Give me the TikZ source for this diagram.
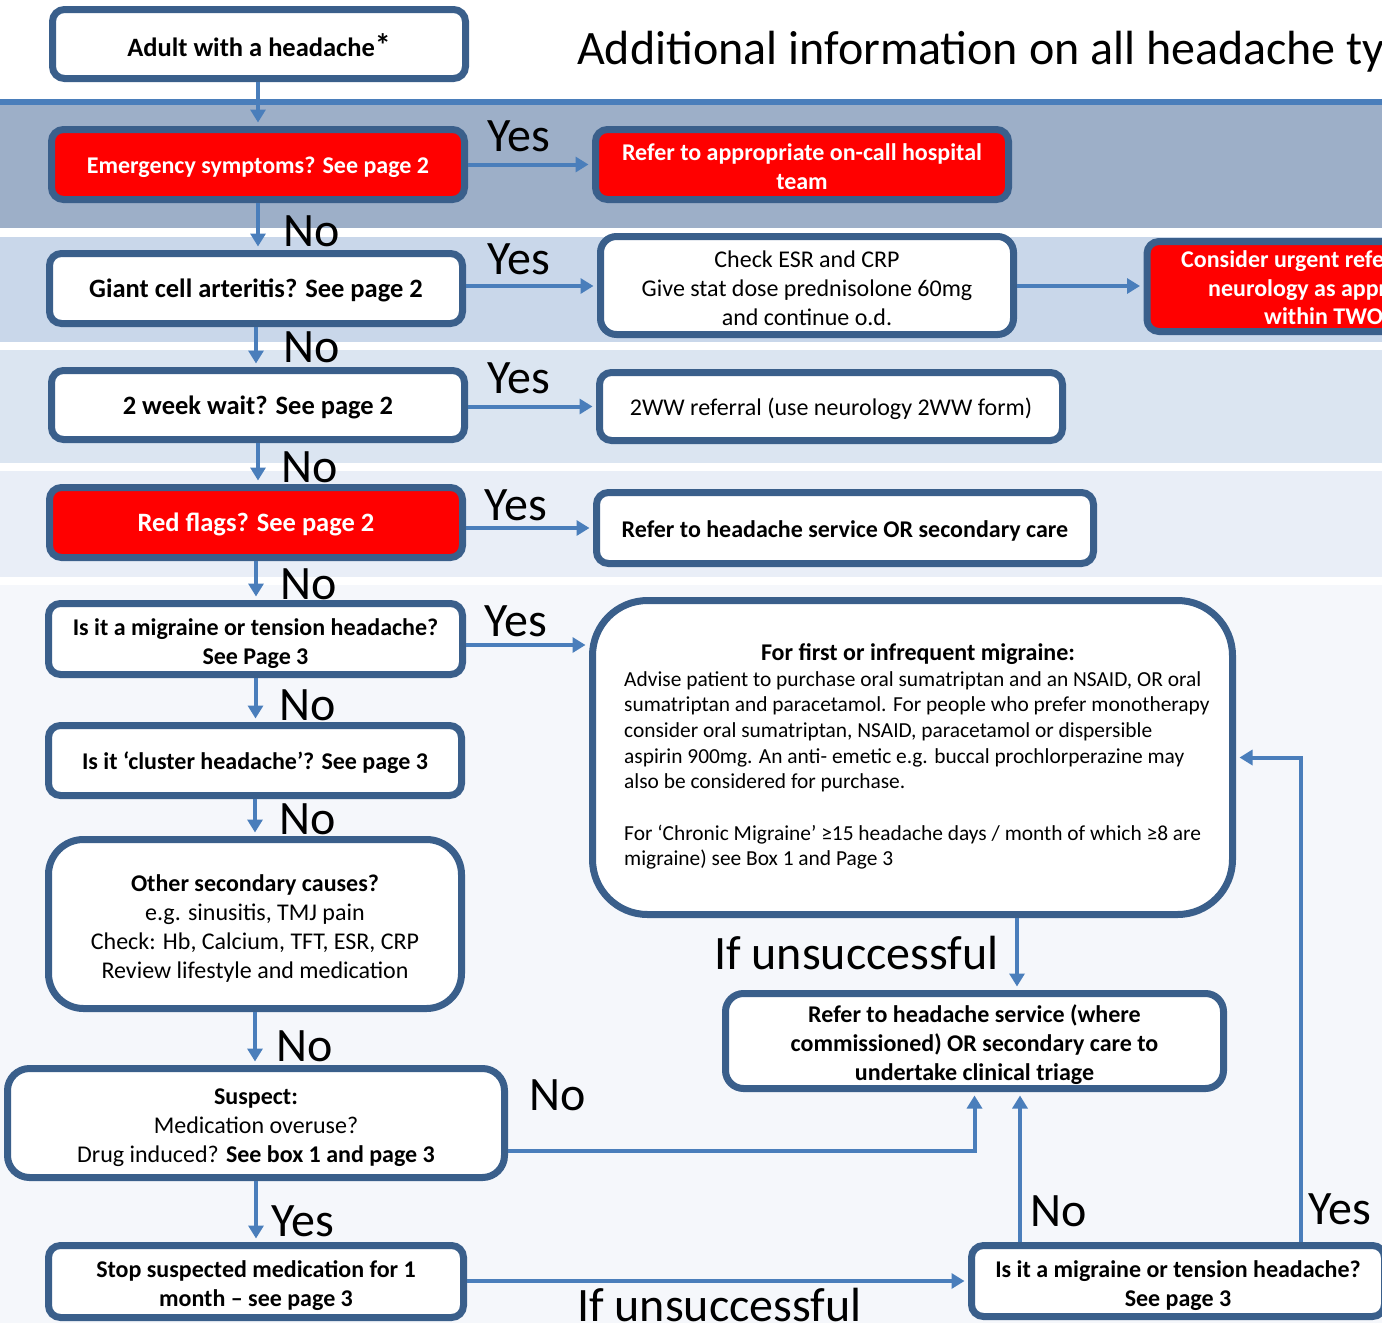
\documentclass[tikz,border=0pt]{standalone}
\usepackage{fontspec}
\setmainfont{Carlito}
\usetikzlibrary{arrows.meta}
\definecolor{bcol}{HTML}{3A5F8B}
\definecolor{acol}{HTML}{4A7EBB}
\definecolor{boxred}{HTML}{FF0000}
\definecolor{bandA}{HTML}{9DAFC8}
\definecolor{bandB}{HTML}{C9D7EA}
\definecolor{bandC}{HTML}{DBE5F1}
\definecolor{bandD}{HTML}{E9EEF7}
\definecolor{bandE}{HTML}{F5F7FB}
\newcommand\bxfont{\fontsize{24}{29}\selectfont}
\newcommand\bgfont{\fontsize{26.5}{31}\selectfont}
\newcommand\lblfont{\fontsize{48}{58}\selectfont}
\newcommand\smfont{\fontsize{21.4}{25.7}\selectfont}
\newcommand\tp{\rule{0pt}{27pt}}
\begin{document}
\begin{tikzpicture}[x=1pt,y=-1pt,
  box/.style={draw=bcol, line width=7pt, rounded corners=12pt, fill=white, align=center, inner sep=0pt, font=\bxfont\bfseries,
    execute at begin node={\rule{0pt}{24pt}}, execute at end node={\rule[-5.6pt]{0pt}{5.6pt}}},
  plainbox/.style={box, font=\bxfont},
  bigbox/.style={box, font=\bgfont\bfseries},
  redbox/.style={box, fill=boxred, text=white},
  arr/.style={draw=acol, line width=4pt, -{Triangle[length=13pt,width=15pt]}, shorten >=3.5pt},
  lbl/.style={anchor=base west, inner sep=0pt, font=\lblfont},
  urgtxt/.style={anchor=base west, inner sep=0pt, text=white, font=\bxfont\bfseries}]
\useasboundingbox (0,0) rectangle (1382,1323);
\clip (0,0) rectangle (1382,1323);
\fill[white] (0,0) rectangle (1382,1323);
% bands
\fill[bandA] (0,105) rectangle (1382,228);
\fill[acol] (0,99) rectangle (1382,105);
\fill[bandB] (0,237) rectangle (1382,342);
\fill[bandC] (0,350) rectangle (1382,463);
\fill[bandD] (0,471) rectangle (1382,577);
\fill[bandE] (0,585) rectangle (1382,1323);
% title
\node[anchor=base west, inner sep=0pt, font=\fontsize{48}{58}\selectfont] (title) at (577,64) {Additional information on all headache types};
% boxes
\node[bigbox, minimum width=413, minimum height=69] (adult) at (259,44) {\rule{0pt}{30pt}Adult with a headache\smash{\fontsize{32}{32}\selectfont *}};
\node[redbox, minimum width=413, minimum height=70] (emerg) at (258,164.5) {Emergency symptoms? See page 2};
\node[redbox, minimum width=413, minimum height=70] (oncall) at (802,164.5) {\tp Refer to appropriate on-call hospital\\team};
\node[bigbox, minimum width=413, minimum height=70] (gca) at (256,288.5) {Giant cell arteritis? See page 2};
\node[plainbox, minimum width=413, minimum height=98, rounded corners=16pt] (esr) at (807,285.5) {\tp Check ESR and CRP\\Give stat dose prednisolone 60mg\\and continue o.d.};
\node[redbox, minimum width=413, minimum height=90] (urgent) at (1353.5,286.5) {};
\node[urgtxt] (urg1) at (1181,267) {Consider urgent referral to};
\node[urgtxt] (urg2) at (1208,296) {neurology as appropriate};
\node[urgtxt] (urg3) at (1264,324) {within TWO weeks};
\node[bigbox, minimum width=413, minimum height=69] (wait) at (258,405) {2 week wait? See page 2};
\node[plainbox, minimum width=463, minimum height=68] (wwref) at (831,406.5) {2WW referral (use neurology 2WW form)};
\node[redbox, bigbox, fill=boxred, text=white, minimum width=413, minimum height=70] (red) at (256,522.5) {Red flags? See page 2};
\node[box, minimum width=497, minimum height=71] (hsrv) at (845,528) {Refer to headache service OR secondary care};
\node[box, minimum width=414, minimum height=71] (mig) at (255.5,639) {\tp Is it a migraine or tension headache?\\See Page 3};
\node[box, minimum width=640, minimum height=314, rounded corners=55pt] (first) at (912.5,757.5) {};
\node[anchor=base, inner sep=0pt, font=\bxfont\bfseries] (firsttitle) at (918,660) {For first or infrequent migraine:};
\node[anchor=north west, inner sep=0pt, align=left, font=\smfont] (firstbody) at (624,671) {Advise patient to purchase oral sumatriptan and an NSAID, OR oral\\sumatriptan and paracetamol. For people who prefer monotherapy\\consider oral sumatriptan, NSAID, paracetamol or dispersible\\aspirin 900mg. An anti- emetic e.g. buccal prochlorperazine may\\also be considered for purchase.\\[25.7pt]For ‘Chronic Migraine’ ≥15 headache days / month of which ≥8 are\\migraine) see Box 1 and Page 3};
\node[box, minimum width=413, minimum height=70] (cluster) at (255,760.5) {Is it ‘cluster headache’? See page 3};
\node[plainbox, minimum width=413, minimum height=169, rounded corners=35pt] (other) at (255,924) {\tp\textbf{Other secondary causes?}\\e.g. sinusitis, TMJ pain\\Check: Hb, Calcium, TFT, ESR, CRP\\Review lifestyle and medication};
\node[plainbox, minimum width=497, minimum height=109, rounded corners=22pt] (suspect) at (256,1123) {\tp\textbf{Suspect:}\\Medication overuse?\\Drug induced? \textbf{See box 1 and page 3}};
\node[box, minimum width=415, minimum height=72] (stop) at (256,1281.5) {\tp Stop suspected medication for 1\\month -- see page 3};
\node[box, minimum width=498, minimum height=95, rounded corners=18pt] (triage) at (974.5,1041) {\tp Refer to headache service (where\\commissioned) OR secondary care to\\undertake clinical triage};
\node[box, minimum width=413, minimum height=71] (mig2) at (1178,1281) {\tp Is it a migraine or tension headache?\\See page 3};
% helper coordinates
\coordinate (xA) at (1017,0);
\coordinate (xB) at (1020,0);
\coordinate (xC) at (1301,0);
\coordinate (yS) at (0,1151);
\coordinate (yF) at (0,645);
\coordinate (yR) at (0,528);
\coordinate (yG) at (0,286);
% vertical chain
\draw[arr] (adult.south -| emerg.north) -- (emerg.north);
\draw[arr] (emerg.south) -- (emerg.south |- gca.north);
\draw[arr] (gca.south) -- (gca.south |- wait.north);
\draw[arr] (wait.south) -- (wait.south |- red.north);
\draw[arr] (red.south) -- (red.south |- mig.north);
\draw[arr] (mig.south) -- (mig.south |- cluster.north);
\draw[arr] (cluster.south) -- (cluster.south |- other.north);
\draw[arr] (other.south) -- (other.south |- suspect.north);
\draw[arr] (suspect.south) -- (suspect.south |- stop.north);
% horizontal yes
\draw[arr] (emerg.east) -- (emerg.east -| oncall.west);
\draw[arr] (gca.east |- yG) -- (esr.west |- yG);
\draw[arr] (esr.east |- yG) -- (urgent.west |- yG);
\draw[arr] (wait.east |- wwref.west) -- (wwref.west);
\draw[arr] (red.east |- yR) -- (hsrv.west |- yR);
\draw[arr] (mig.east |- yF) -- (first.west |- yF);
% right side
\draw[arr] (first.south -| xA) -- (triage.north -| xA);
\draw[arr] (suspect.east |- yS) -| (triage.south);
\draw[arr] (stop.east |- mig2.west) -- (mig2.west);
\draw[arr] (mig2.north -| xB) -- (triage.south -| xB);
\draw[arr] (mig2.north -| xC) |- (first.east);
% labels
\node[lbl] (y1) at (487,151) {Yes};
\node[lbl] (y2) at (487,274) {Yes};
\node[lbl] (y3) at (487,393) {Yes};
\node[lbl] (y4) at (484,520) {Yes};
\node[lbl] (y5) at (484,636) {Yes};
\node[lbl] (n1) at (283,246) {No};
\node[lbl] (n2) at (283,362) {No};
\node[lbl] (n3) at (281,482) {No};
\node[lbl] (n4) at (280,599) {No};
\node[lbl] (n5) at (279,720) {No};
\node[lbl] (n6) at (279,834) {No};
\node[lbl] (n7) at (276,1061) {No};
\node[lbl] (y6) at (271,1236) {Yes};
\node[lbl] (n8) at (529,1110) {No};
\node[lbl] (u1) at (714,969) {If unsuccessful};
\node[lbl] (n9) at (1030,1226) {No};
\node[lbl] (y7) at (1308,1224) {Yes};
\node[lbl] (u2) at (577,1321) {If unsuccessful};
\end{tikzpicture}
\end{document}
